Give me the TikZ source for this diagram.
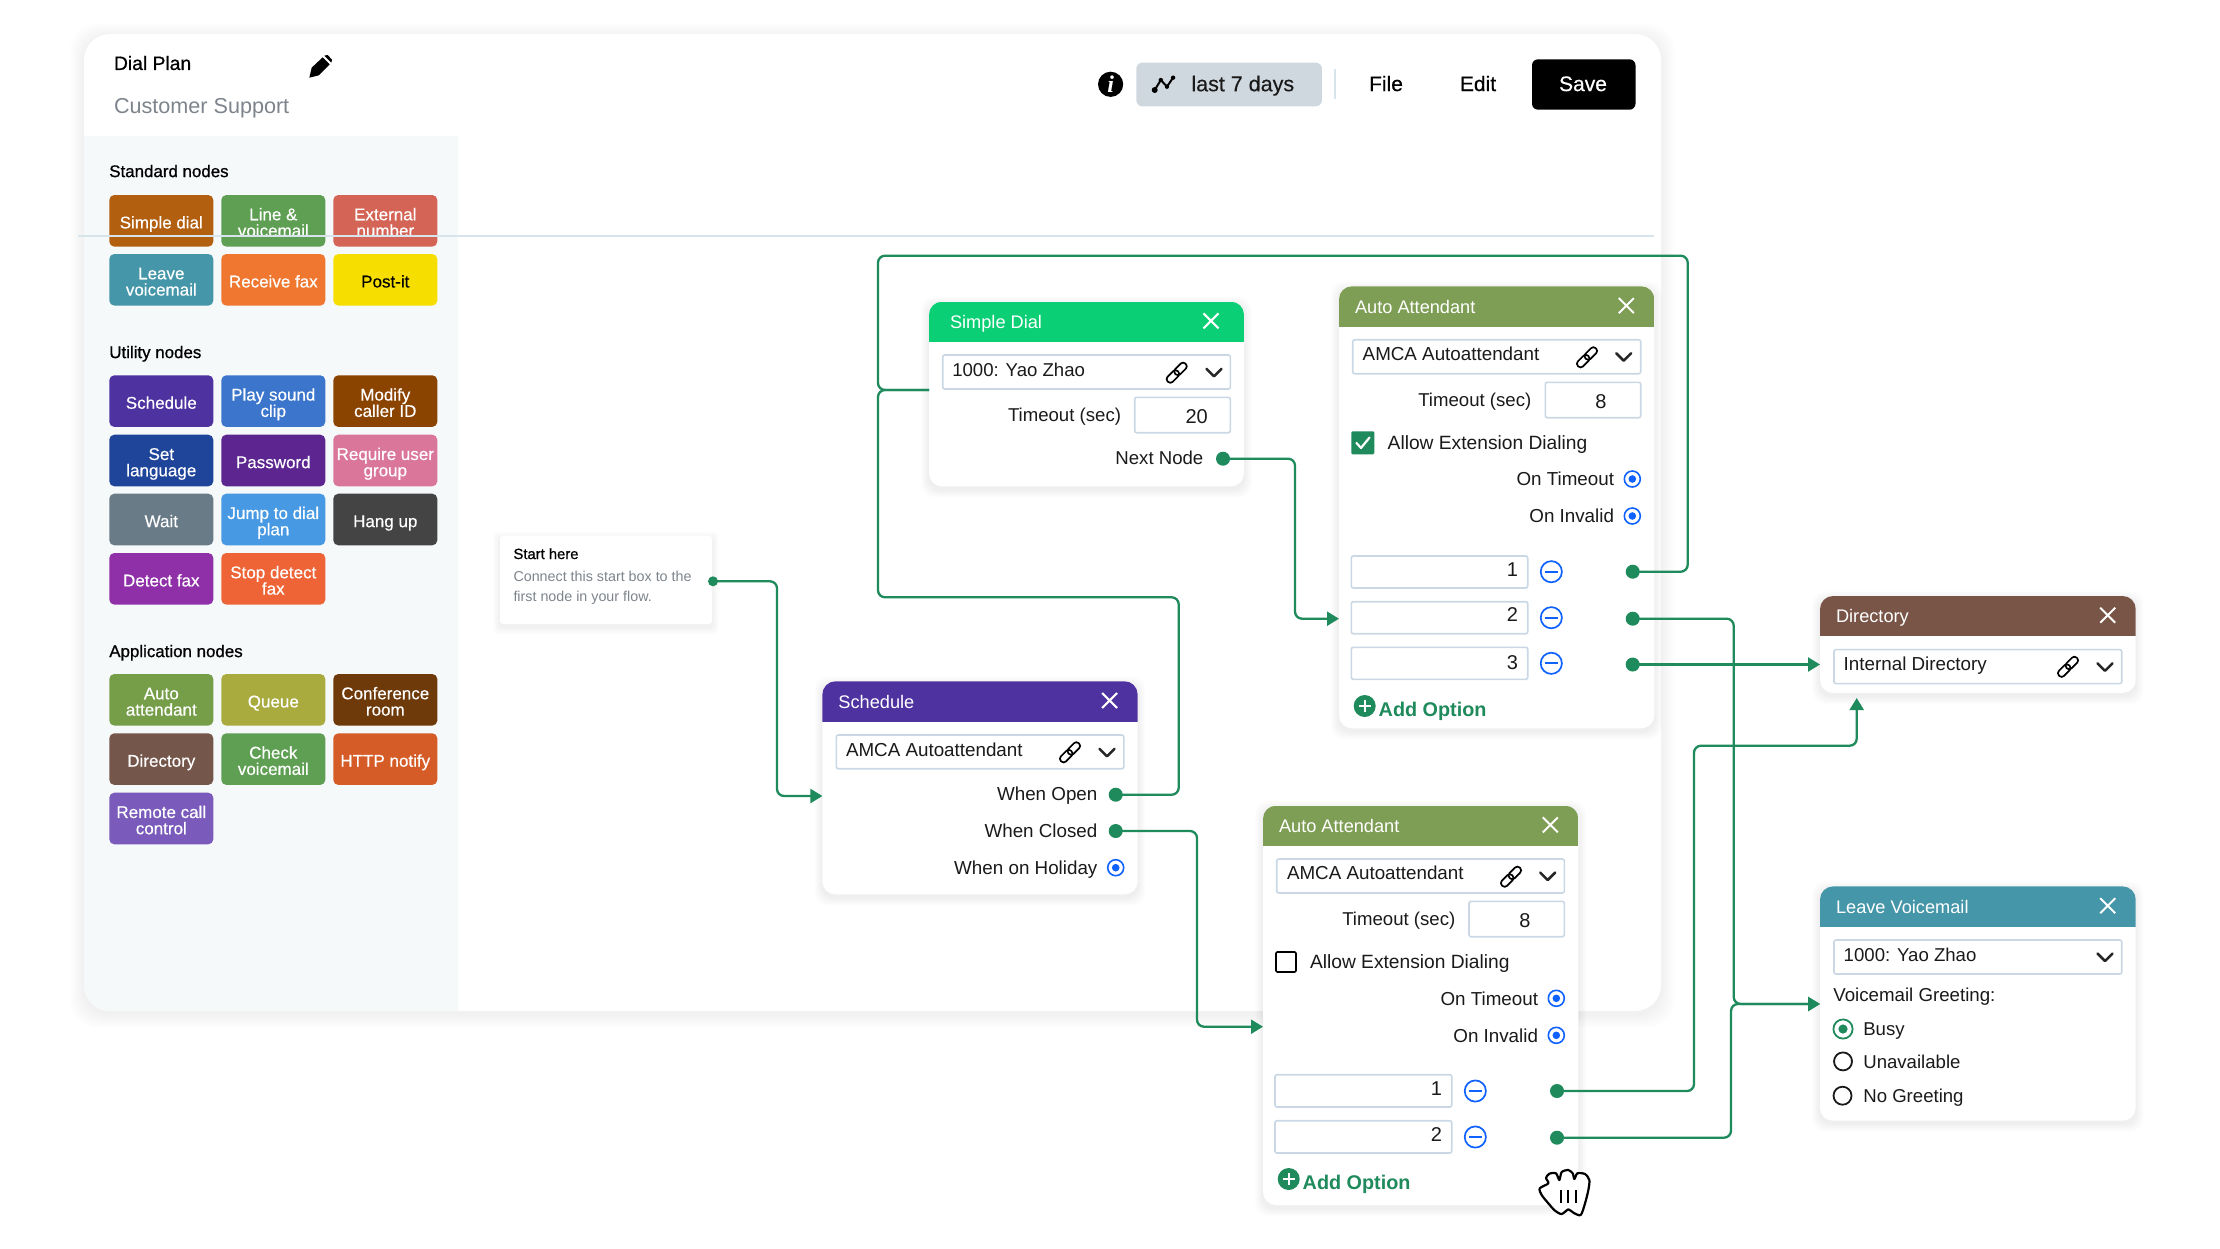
\documentclass[tikz,border=0pt]{standalone}
\usepackage{fontspec}
\setmainfont{Liberation Sans}
\newfontfamily\medf[FakeBold=0.8]{Liberation Sans}
\newfontfamily\btnf[FakeBold=0.4]{Liberation Sans}
\newfontfamily\bldf{Liberation Sans Bold}
\newfontfamily\serf{Liberation Serif Bold Italic}
\usetikzlibrary{arrows.meta,calc}
\definecolor{conn}{HTML}{1F8A5B}
\definecolor{inb}{HTML}{C9D8E4}
\definecolor{blu}{HTML}{0F62FE}
\definecolor{ink}{HTML}{1A1A1A}
\definecolor{side}{HTML}{F6F9FA}
\definecolor{hair}{HTML}{D8E4EC}
\definecolor{greyt}{HTML}{7D848C}
\definecolor{rangeb}{HTML}{CFD8DF}
\definecolor{hsd}{HTML}{0ACF74}
\definecolor{haa}{HTML}{7F9E55}
\definecolor{hsc}{HTML}{4E32A0}
\definecolor{hdi}{HTML}{795548}
\definecolor{hlv}{HTML}{4496A8}
\definecolor{c1}{HTML}{B25F10}\definecolor{c2}{HTML}{5F9F53}\definecolor{c3}{HTML}{D46455}
\definecolor{c4}{HTML}{4496A8}\definecolor{c5}{HTML}{EF7730}\definecolor{c6}{HTML}{F6DE00}
\definecolor{c7}{HTML}{3B76CC}\definecolor{c8}{HTML}{8B4300}\definecolor{c9}{HTML}{1F459B}
\definecolor{c10}{HTML}{5C2590}\definecolor{c11}{HTML}{DA7699}\definecolor{c12}{HTML}{687B87}
\definecolor{c13}{HTML}{4699E2}\definecolor{c14}{HTML}{444444}\definecolor{c15}{HTML}{8F30A8}
\definecolor{c16}{HTML}{EE6437}\definecolor{c17}{HTML}{769E48}\definecolor{c18}{HTML}{A9AB3F}
\definecolor{c19}{HTML}{6E3A0A}\definecolor{c20}{HTML}{74564A}\definecolor{c21}{HTML}{D65C27}
\definecolor{c22}{HTML}{7A5ABB}
\tikzset{
  flow/.style={draw=conn,line width=1.15pt,rounded corners=3.5pt},
  flowa/.style={flow,-{Triangle[length=6pt,width=7pt]}},
  inbox/.style={draw=inb,line width=.8pt,fill=white,rounded corners=1pt,inner sep=0pt,outer sep=0pt,anchor=north west},
  portdot/.style={circle,fill=conn,minimum size=7pt,inner sep=0pt,outer sep=0pt},
  radiob/.style={circle,draw=blu,line width=.8pt,fill=white,minimum size=8pt,inner sep=0pt,outer sep=0pt},
  minusb/.style={circle,draw=blu,line width=.85pt,minimum size=10.6pt,inner sep=0pt,outer sep=0pt},
  linkn/.style={draw=black,line width=.85pt,rounded corners=1.6pt,rotate=45,minimum width=7.2pt,minimum height=3.6pt,inner sep=0pt,outer sep=0pt},
  btn/.style={rounded corners=2.5pt,minimum width=52pt,minimum height=25.8pt,inner sep=0pt,outer sep=0pt,anchor=north west,align=center,
     font=\btnf\fontsize{8.5}{8.15}\selectfont},
  cardn/.style={fill=white,rounded corners=6.5pt,inner sep=0pt,outer sep=0pt,anchor=north west},
  circ/.style={circle,inner sep=0pt,outer sep=0pt},
}
\newcommand\Tx[8][base west]{\pgfmathsetmacro\by{#4+0.36*#5}\pgfmathsetmacro\sz{#5*0.5}%
  \node[inner sep=0pt,outer sep=0pt,anchor=#1,text=#6] (#2) at (#3,\by) {\fontsize{\sz}{\sz}\selectfont#7{}#8};}
\newcommand\Shad[7]{\foreach \e in {1,...,#6}{\fill[black,opacity=#7,rounded corners=#5] ({#1-\e},{#2-\e+3}) rectangle ({#3+\e},{#4+\e+3});}}
% [title offset] name x1 y1 x2 y2 header-bottom colour title
\newcommand\HeadCard[9][16]{%
  \Shad{#3}{#4}{#5}{#6}{6.5pt}{8}{0.009}%
  \node[cardn,minimum width={(#5-#3)*0.5pt},minimum height={(#6-#4)*0.5pt}] (#2) at (#3,#4) {};
  \begin{scope}\clip[rounded corners=6.5pt] (#3,#4) rectangle (#5,#6);
    \fill[#8] (#3,#4) rectangle (#5,#7);
  \end{scope}
  \pgfmathsetmacro\hy{(#4+#7)/2}\pgfmathsetmacro\tix{#3+#1}\pgfmathsetmacro\xx{#5-#1-12}\pgfmathsetmacro\xy{\hy-1}%
  \Tx{#2-title}{\tix}{\hy}{18.2}{white}{}{#9}
  \draw[white,line width=1pt] ({\xx-7.5},{\xy-7.5}) -- ({\xx+7.5},{\xy+7.5}) ({\xx-7.5},{\xy+7.5}) -- ({\xx+7.5},{\xy-7.5});}
\newcommand\Inp[5]{\node[inbox,minimum width={(#4-#2)*0.5pt},minimum height={(#5-#3)*0.5pt}] (#1) at (#2,#3) {};}
\newcommand\Lnk[3]{\node[linkn] (#1-a) at ({#2-3.8},{#3+3.8}) {};\node[linkn] (#1-b) at ({#2+3.8},{#3-3.8}) {};}
\newcommand\Chev[2]{\draw[draw=black!85,line width=1.25pt,line cap=round,line join=round] ({#1-7.5},{#2-3.5}) -- (#1,{#2+4}) -- ({#1+7.5},{#2-3.5});}
\newcommand\Rad[3]{\node[radiob] (#1) at (#2,#3) {};\fill[blu] (#2,#3) circle[radius=1.9pt];}
\newcommand\Minus[3]{\node[minusb] (#1) at (#2,#3) {};\draw[blu,line width=.85pt] ({#2-6.5},#3) -- ({#2+6.5},#3);}
\newcommand\Dot[3]{\node[portdot] (#1) at (#2,#3) {};}
\newcommand\AddOpt[5]{\node[circ,fill=conn,minimum size=11pt] (#1-plus) at (#2,#3) {};
  \draw[white,line width=.95pt] ({#2-6},#3) -- ({#2+6},#3) (#2,{#3-6}) -- (#2,{#3+6});
  \Tx{#1-text}{#4}{#5}{19.8}{conn}{\bldf}{Add Option}}
\newcommand\Btna[6]{\node[btn,fill=#4,text=#5] (#1) at (#2,#3) {\rule{0pt}{\dimexpr.72em+1.5pt}\smash{#6}};}
\newcommand\Btnb[7]{\node[btn,fill=#4,text=#5] (#1) at (#2,#3) {\rule{0pt}{\dimexpr.72em+1.5pt}\smash{#6}\\\rule{0pt}{.72em}\smash{#7}};}
\begin{document}
\begin{tikzpicture}[x=0.5pt,y=-0.5pt]
\useasboundingbox (0,0) rectangle (2220,1248);
\fill[white] (0,0) rectangle (2220,1248);
% canvas card
\foreach \e in {1,...,14}{\fill[black,opacity=0.005,rounded corners=13pt] ({84-\e},{34-\e+3}) rectangle ({1661+\e},{1011+\e+3});}
\node[fill=white,rounded corners=13pt,inner sep=0pt,outer sep=0pt,anchor=north west,minimum width=788.5pt,minimum height=488.5pt] (canvas) at (84,34) {};
\begin{scope}\clip[rounded corners=13pt] (84,34) rectangle (1661,1011);
  \fill[side] (84,136) rectangle (458,1011);
\end{scope}
% header
\Tx{plan}{114}{63}{19.3}{black}{\medf}{Dial Plan}
\Tx{cust}{114}{105.7}{21.6}{greyt}{}{Customer Support}
\begin{scope}[shift={(60,20)},x=0.16667pt,y=-0.16667pt]
  \fill[black] (748,173) -- (755,143) -- (788,112) -- (809,133) -- (776,166) -- cycle;
  \fill[black] (793,107) -- (803,105) -- (816,119) -- (814,128) -- cycle;
\end{scope}
\node[circ,fill=black,minimum size=12.6pt] (info) at (1110.6,84.3) {};
\Tx[base]{infoi}{1110.6}{84}{24}{white}{\serf}{i}
\node[fill=rangeb,rounded corners=3pt,inner sep=0pt,outer sep=0pt,anchor=north west,minimum width=92.8pt,minimum height=21.8pt] (range) at (1136.3,62.7) {};
\begin{scope}[shift={(1060,30)},x=0.2041pt,y=-0.16667pt]
  \draw[black,line width=1pt,line join=round] (232,180) -- (247,150) -- (262,170) -- (277,143);
  \fill[black] (232,180) circle[radius=1.5pt] (247,150) circle[radius=1.1pt] (262,170) circle[radius=1.1pt] (277,143) circle[radius=1.1pt];
\end{scope}
\Tx{rangetxt}{1191.4}{83.5}{21.5}{ink}{\btnf}{last 7 days}
\draw[hair,line width=.8pt] (1335,69.3) -- (1335,99.3);
\Tx[base]{file}{1386}{83.5}{21}{black}{\btnf}{File}
\Tx[base]{edit}{1478}{83.5}{21}{black}{\btnf}{Edit}
\node[fill=black,rounded corners=3pt,inner sep=0pt,outer sep=0pt,anchor=north west,minimum width=51.75pt,minimum height=25.2pt] (save) at (1532,59.3) {};
\Tx[base]{savet}{1583}{83.5}{21}{white}{\btnf}{Save}
% palette
\Tx{hstd}{109.3}{171}{16.9}{black}{\medf}{Standard nodes}
\Tx{huti}{109.3}{352}{16.9}{black}{\medf}{Utility nodes}
\Tx{happ}{109.3}{651}{16.9}{black}{\medf}{Application nodes}
\def\ca{109.3}\def\cb{221.3}\def\cc{333.3}
\Btna{b1}{\ca}{195}{c1}{white}{Simple dial}
\Btnb{b2}{\cb}{195}{c2}{white}{Line \&}{voicemail}
\Btnb{b3}{\cc}{195}{c3}{white}{External}{number}
\Btnb{b4}{\ca}{254}{c4}{white}{Leave}{voicemail}
\Btna{b5}{\cb}{254}{c5}{white}{Receive fax}
\Btna{b6}{\cc}{254}{c6}{black}{Post-it}
\Btna{b7}{\ca}{375.3}{hsc}{white}{Schedule}
\Btnb{b8}{\cb}{375.3}{c7}{white}{Play sound}{clip}
\Btnb{b9}{\cc}{375.3}{c8}{white}{Modify}{caller ID}
\Btnb{b10}{\ca}{434.7}{c9}{white}{Set}{language}
\Btna{b11}{\cb}{434.7}{c10}{white}{Password}
\Btnb{b12}{\cc}{434.7}{c11}{white}{Require user}{group}
\Btna{b13}{\ca}{493.7}{c12}{white}{Wait}
\Btnb{b14}{\cb}{493.7}{c13}{white}{Jump to dial}{plan}
\Btna{b15}{\cc}{493.7}{c14}{white}{Hang up}
\Btna{b16}{\ca}{553}{c15}{white}{Detect fax}
\Btnb{b17}{\cb}{553}{c16}{white}{Stop detect}{fax}
\Btnb{b18}{\ca}{674}{c17}{white}{Auto}{attendant}
\Btna{b19}{\cb}{674}{c18}{white}{Queue}
\Btnb{b20}{\cc}{674}{c19}{white}{Conference}{room}
\Btna{b21}{\ca}{733.3}{c20}{white}{Directory}
\Btnb{b22}{\cb}{733.3}{c2}{white}{Check}{voicemail}
\Btna{b23}{\cc}{733.3}{c21}{white}{HTTP notify}
\Btnb{b24}{\ca}{792.7}{c22}{white}{Remote call}{control}
\draw[hair,line width=.8pt] (78,236) -- (1654,236);
% start box
\foreach \e in {1,...,7}{\fill[black,opacity=0.009,rounded corners=2pt] ({500-\e},{535.7-\e+3}) rectangle ({712+\e},{624+\e+3});}
\node[fill=white,rounded corners=1.5pt,inner sep=0pt,outer sep=0pt,anchor=north west,minimum width=106pt,minimum height=44.15pt] (start) at (500,535.7) {};
\Tx{st1}{513.5}{553.7}{14.8}{black}{\medf}{Start here}
\Tx{st2}{513.5}{576.7}{14.3}{greyt}{}{Connect this start box to the}
\Tx{st3}{513.5}{596.7}{14.3}{greyt}{}{first node in your flow.}
\node[circ,fill=conn,minimum size=5pt] (startdot) at (713,581.3) {};
% Simple Dial
\HeadCard[21]{sd}{929}{301.7}{1244}{486.3}{342}{hsd}{Simple Dial}
\Inp{sdsel}{942.7}{355}{1230.3}{389}
\Tx{sdt}{952.3}{369.3}{18.6}{ink}{}{1000: Yao Zhao}
\Lnk{sdl}{1176.7}{372.7}\Chev{1214}{372.3}
\Tx[base east]{sdto}{1121}{414.7}{18.6}{ink}{}{Timeout (sec)}
\Inp{sdin}{1134.7}{397.3}{1230.3}{432.7}
\Tx[base]{sdv}{1196.7}{416}{20}{ink}{}{20}
\Tx[base east]{sdnn}{1203.3}{458}{18.6}{ink}{}{Next Node}
\Dot{sdnext}{1223}{458.7}
\coordinate (sdinp) at (929,390);
% Auto Attendant 1
\HeadCard{aa}{1339}{286.3}{1654.3}{728.3}{327}{haa}{Auto Attendant}
\Inp{aasel}{1352.7}{339.7}{1640.7}{373.7}
\Tx{aat}{1362.7}{354}{18.8}{ink}{}{AMCA Autoattendant}
\Lnk{aal}{1587}{357.3}\Chev{1623.7}{356.7}
\Tx[base east]{aato}{1531.3}{399.7}{18.6}{ink}{}{Timeout (sec)}
\Inp{aain}{1545.3}{382.3}{1640.7}{417.7}
\Tx[base]{aav}{1601}{401}{20}{ink}{}{8}
\node[fill=conn,rounded corners=.6pt,inner sep=0pt,outer sep=0pt,minimum size=11.5pt] (aachk) at (1362.8,442.8) {};
\draw[white,line width=1.1pt,line cap=round,line join=round] (1356.5,443) -- (1361,448) -- (1369.5,437.5);
\Tx{aaext}{1387.7}{442.7}{19.2}{ink}{}{Allow Extension Dialing}
\Tx[base east]{aaot}{1614}{479}{18.8}{ink}{}{On Timeout}
\Rad{aar1}{1632.3}{479}
\Tx[base east]{aaoi}{1614}{516}{18.8}{ink}{}{On Invalid}
\Rad{aar2}{1632.3}{516}
\Inp{aao1}{1351.3}{556}{1527.7}{588}
\Inp{aao2}{1351.3}{601.7}{1527.7}{633.7}
\Inp{aao3}{1351.3}{647.3}{1527.7}{679.3}
\Tx[base east]{aad1}{1518}{569}{20}{ink}{}{1}
\Tx[base east]{aad2}{1518}{614.7}{20}{ink}{}{2}
\Tx[base east]{aad3}{1518}{662.7}{20}{ink}{}{3}
\Minus{aam1}{1551.3}{571.7}\Minus{aam2}{1551.3}{617.7}\Minus{aam3}{1551.3}{663.3}
\Dot{aap1}{1632.7}{571.7}\Dot{aap2}{1632.7}{618.7}\Dot{aap3}{1632.7}{664.5}
\AddOpt{aaadd}{1364.7}{706}{1378.7}{709}
\coordinate (aainp) at (1339,618.7);
% Schedule
\HeadCard{sc}{822.4}{681.3}{1137.6}{894.3}{721.7}{hsc}{Schedule}
\Inp{scsel}{836.3}{735}{1123.8}{768.7}
\Tx{sct}{846}{749.3}{18.8}{ink}{}{AMCA Autoattendant}
\Lnk{scl}{1070}{752.3}\Chev{1107}{752.3}
\Tx[base east]{sco}{1097.4}{794}{18.8}{ink}{}{When Open}
\Tx[base east]{scc}{1097.4}{830.7}{18.8}{ink}{}{When Closed}
\Tx[base east]{sch}{1097.4}{867.7}{18.8}{ink}{}{When on Holiday}
\Dot{scp1}{1115.7}{794.7}\Dot{scp2}{1115.7}{831}
\Rad{scr}{1115.7}{867.7}
\coordinate (scinp) at (822.4,796);
% Auto Attendant 2
\HeadCard{ab}{1263}{805.7}{1578.3}{1205}{846}{haa}{Auto Attendant}
\Inp{absel}{1276.7}{859}{1564.3}{893}
\Tx{abt}{1287}{873}{18.8}{ink}{}{AMCA Autoattendant}
\Lnk{abl}{1511}{876.7}\Chev{1547.7}{876}
\Tx[base east]{abto}{1455.3}{919}{18.6}{ink}{}{Timeout (sec)}
\Inp{abin}{1469}{901.3}{1564.3}{936.7}
\Tx[base]{abv}{1525}{920}{20}{ink}{}{8}
\node[draw=black,line width=.8pt,rounded corners=.6pt,inner sep=0pt,outer sep=0pt,minimum size=10pt] (abchk) at (1286,962) {};
\Tx{abext}{1310}{962}{19.2}{ink}{}{Allow Extension Dialing}
\Tx[base east]{abot}{1538}{998.3}{18.8}{ink}{}{On Timeout}
\Rad{abr1}{1556.3}{998.3}
\Tx[base east]{aboi}{1538}{1035.3}{18.8}{ink}{}{On Invalid}
\Rad{abr2}{1556.3}{1035.3}
\Inp{abo1}{1275}{1074.7}{1451.7}{1107}
\Inp{abo2}{1275}{1120.7}{1451.7}{1153}
\Tx[base east]{abd1}{1442}{1088.3}{20}{ink}{}{1}
\Tx[base east]{abd2}{1442}{1134}{20}{ink}{}{2}
\Minus{abm1}{1475.3}{1091}\Minus{abm2}{1475.3}{1137}
\Dot{abp1}{1557}{1091}\Dot{abp2}{1557}{1137.7}
\AddOpt{abadd}{1288.7}{1179}{1302.7}{1182.3}
\coordinate (abinp) at (1263,1026.7);
% Directory
\HeadCard{di}{1820}{596}{2135.7}{692.9}{636.4}{hdi}{Directory}
\Inp{disel}{1834}{649.6}{2121.7}{683.6}
\Tx{dit}{1843.7}{664}{18.8}{ink}{}{Internal Directory}
\Lnk{dil}{2068}{666.8}\Chev{2105}{666.8}
\coordinate (diinp) at (1820,664.5);
\coordinate (dibot) at (1856.7,698);
% Leave Voicemail
\HeadCard{lv}{1820}{886.4}{2135.7}{1120.7}{927}{hlv}{Leave Voicemail}
\Inp{lvsel}{1834}{940}{2121.7}{974}
\Tx{lvt}{1843.7}{954.3}{18.6}{ink}{}{1000: Yao Zhao}
\Chev{2105}{957}
\Tx{lvg}{1833.3}{995}{18.7}{ink}{}{Voicemail Greeting:}
\node[circ,draw=conn,line width=.9pt,minimum size=9.6pt] (lvr1) at (1843,1029) {};
\fill[conn] (1843,1029) circle[radius=2.3pt];
\node[circ,draw=ink,line width=.9pt,minimum size=9pt] (lvr2) at (1843,1061.4) {};
\node[circ,draw=ink,line width=.9pt,minimum size=9pt] (lvr3) at (1842.5,1095.7) {};
\Tx{lvb}{1863.3}{1029}{18.6}{ink}{}{Busy}
\Tx{lvu}{1863.3}{1062}{18.6}{ink}{}{Unavailable}
\Tx{lvn}{1863.3}{1096}{18.6}{ink}{}{No Greeting}
\coordinate (lvinp) at (1820,1004);
% connectors
\draw[flowa] (startdot.center) -- (777,581.3) -- (777,796) -- (scinp);
\draw[flow] (scp1.center) -- (1178.7,794.7) -- (1178.7,597.3) -- (878,597.3) -- (878,390) -- (sdinp);
\draw[flow] (aap1.center) -- (1687.7,571.7) -- (1687.7,255.7) -- (878,255.7) -- (878,390) -- (sdinp);
\draw[flowa] (sdnext.center) -- (1295,458.7) -- (1295,618.7) -- (aainp);
\draw[flowa] (scp2.center) -- (1197,831) -- (1197,1026.7) -- (abinp);
\draw[flowa] (aap3.center) -- (diinp);
\draw[flowa] (aap2.center) -- (1733.7,618.7) -- (1733.7,1004) -- (lvinp);
\draw[flowa] (abp2.center) -- (1731,1137.7) -- (1731,1004) -- (lvinp);
\draw[flowa] (abp1.center) -- (1694,1091) -- (1694,745.7) -- (1856.7,745.7) -- (dibot);
% hand cursor
\begin{scope}[shift={(1240,790)},x=0.16667pt,y=-0.16667pt]
  \draw[black,fill=white,line width=1.1pt,line join=round] plot[smooth cycle,tension=.45] coordinates {(899,1195) (925,1180) (918,1164) (928,1151) (948,1150) (958,1170) (965,1146) (985,1140) (998,1150) (1003,1167) (1012,1150) (1035,1152) (1048,1170) (1045,1200) (1035,1240) (1022,1275) (1000,1268) (985,1258) (965,1272) (945,1262) (925,1240) (905,1215)};
  \draw[black,line width=1.1pt] (962,1200) -- (962,1240) (985,1200) -- (985,1240) (1008,1200) -- (1008,1240);
\end{scope}
\end{tikzpicture}
\end{document}
